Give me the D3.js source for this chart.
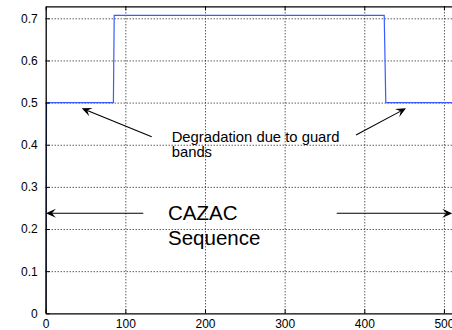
<!DOCTYPE html>
<html>
<head>
<meta charset="utf-8">
<script src="https://cdn.jsdelivr.net/npm/d3@7"></script>
<style>
html, body { margin: 0; padding: 0; background: #fff; overflow: hidden; }
svg { display: block; font-family: "Liberation Sans", Arial, Helvetica, sans-serif; }
</style>
</head>
<body>
<svg id="chart" width="452" height="330"></svg>
<script>
// ---- data ----
const sampleIndex = [0, 1, 85, 86, 425, 427, 512];
const amplitude = [0, 0.5, 0.5, 0.707, 0.707, 0.5, 0.5];
const xTicks = [0, 100, 200, 300, 400, 500];
const yTicks = [0, 0.1, 0.2, 0.3, 0.4, 0.5, 0.6, 0.7];
const xDomain = [0, 512];
const yDomain = [0, 0.7285];
const guardLabel = ["Degradation due to guard", "bands"];
const cazacLabel = ["CAZAC", "Sequence"];

// ---- layout ----
const pLeft = 45.7, pRight = 453.5, pTop = 6.3, pBottom = 313.3;
const svg = d3.select("#chart");
const x = d3.scaleLinear().domain(xDomain).range([pLeft, pRight]);
const y = d3.scaleLinear().domain(yDomain).range([pBottom, pTop]);

// grid
const grid = svg.append("g").attr("class", "grid");
grid.append("g")
  .attr("transform", `translate(0,${pBottom})`)
  .call(d3.axisBottom(x).tickValues(xTicks.filter(d => d > 0)).tickSize(-(pBottom - pTop)).tickFormat(""))
  .call(g => g.select(".domain").remove())
  .call(g => g.selectAll("line").attr("stroke", "#111").attr("stroke-dasharray", "1,2"));
grid.append("g")
  .attr("transform", `translate(${pLeft},0)`)
  .call(d3.axisLeft(y).tickValues(yTicks.filter(d => d > 0)).tickSize(-(pRight - pLeft)).tickFormat(""))
  .call(g => g.select(".domain").remove())
  .call(g => g.selectAll("line").attr("stroke", "#111").attr("stroke-dasharray", "1,2"));

// signal line
const line = d3.line().x((d, i) => x(sampleIndex[i])).y(d => y(d));
svg.append("path")
  .datum(amplitude)
  .attr("fill", "none")
  .attr("stroke", "#3a5cff")
  .attr("stroke-width", 1.2)
  .attr("d", line);

// axes
const axisStyle = g => {
  g.select(".domain").attr("stroke", "#000").attr("stroke-width", 1.3);
  g.selectAll(".tick line").attr("stroke", "#000");
  g.selectAll(".tick text").attr("font-size", 12).attr("fill", "#000")
    .attr("font-family", "'Liberation Sans', Arial, Helvetica, sans-serif");
};
svg.append("g")
  .attr("transform", `translate(0,${pBottom})`)
  .call(d3.axisBottom(x).tickValues(xTicks).tickSizeInner(-4).tickSizeOuter(0).tickPadding(6).tickFormat(d3.format("d")))
  .call(axisStyle);
svg.append("g")
  .attr("transform", `translate(0,${pTop})`)
  .call(d3.axisTop(x).tickValues(xTicks).tickSizeInner(-4).tickSizeOuter(0).tickFormat(""))
  .call(axisStyle);
svg.append("g")
  .attr("transform", `translate(${pLeft},0)`)
  .call(d3.axisLeft(y).tickValues(yTicks).tickSizeInner(-4).tickSizeOuter(0).tickPadding(8).tickFormat(d => d === 0 ? "0" : d3.format(".1f")(d)))
  .call(axisStyle);

// arrows
function arrow(x1, y1, x2, y2) {
  const ang = Math.atan2(y2 - y1, x2 - x1);
  const L = 10, W = 4.5, notch = 6;
  const ux = Math.cos(ang), uy = Math.sin(ang);
  const px = -uy, py = ux;
  const bx = x2 - ux * L, by = y2 - uy * L;
  const nx = x2 - ux * notch, ny = y2 - uy * notch;
  svg.append("line").attr("x1", x1).attr("y1", y1).attr("x2", nx).attr("y2", ny)
    .attr("stroke", "#000").attr("stroke-width", 1.1);
  svg.append("path")
    .attr("d", `M${x2},${y2}L${bx + px * W},${by + py * W}L${nx},${ny}L${bx - px * W},${by - py * W}Z`)
    .attr("fill", "#000");
}
arrow(151.7, 136.7, 81.7, 108.3);
arrow(356, 135, 406, 108.3);
arrow(143.3, 213.3, 45.9, 213.3);
arrow(336.7, 213.3, 452.3, 213.3);

// annotation text
const t1 = svg.append("text").attr("x", 171.7).attr("y", 141.5)
  .attr("font-size", 14.8).attr("fill", "#000");
guardLabel.forEach((s, i) => t1.append("tspan").attr("x", 171.7).attr("dy", i === 0 ? 0 : 15).text(s));
const t2 = svg.append("text").attr("x", 168).attr("y", 220)
  .attr("font-size", 20.5).attr("fill", "#000");
cazacLabel.forEach((s, i) => t2.append("tspan").attr("x", 168).attr("dy", i === 0 ? 0 : 25).text(s));
</script>
</body>
</html>
